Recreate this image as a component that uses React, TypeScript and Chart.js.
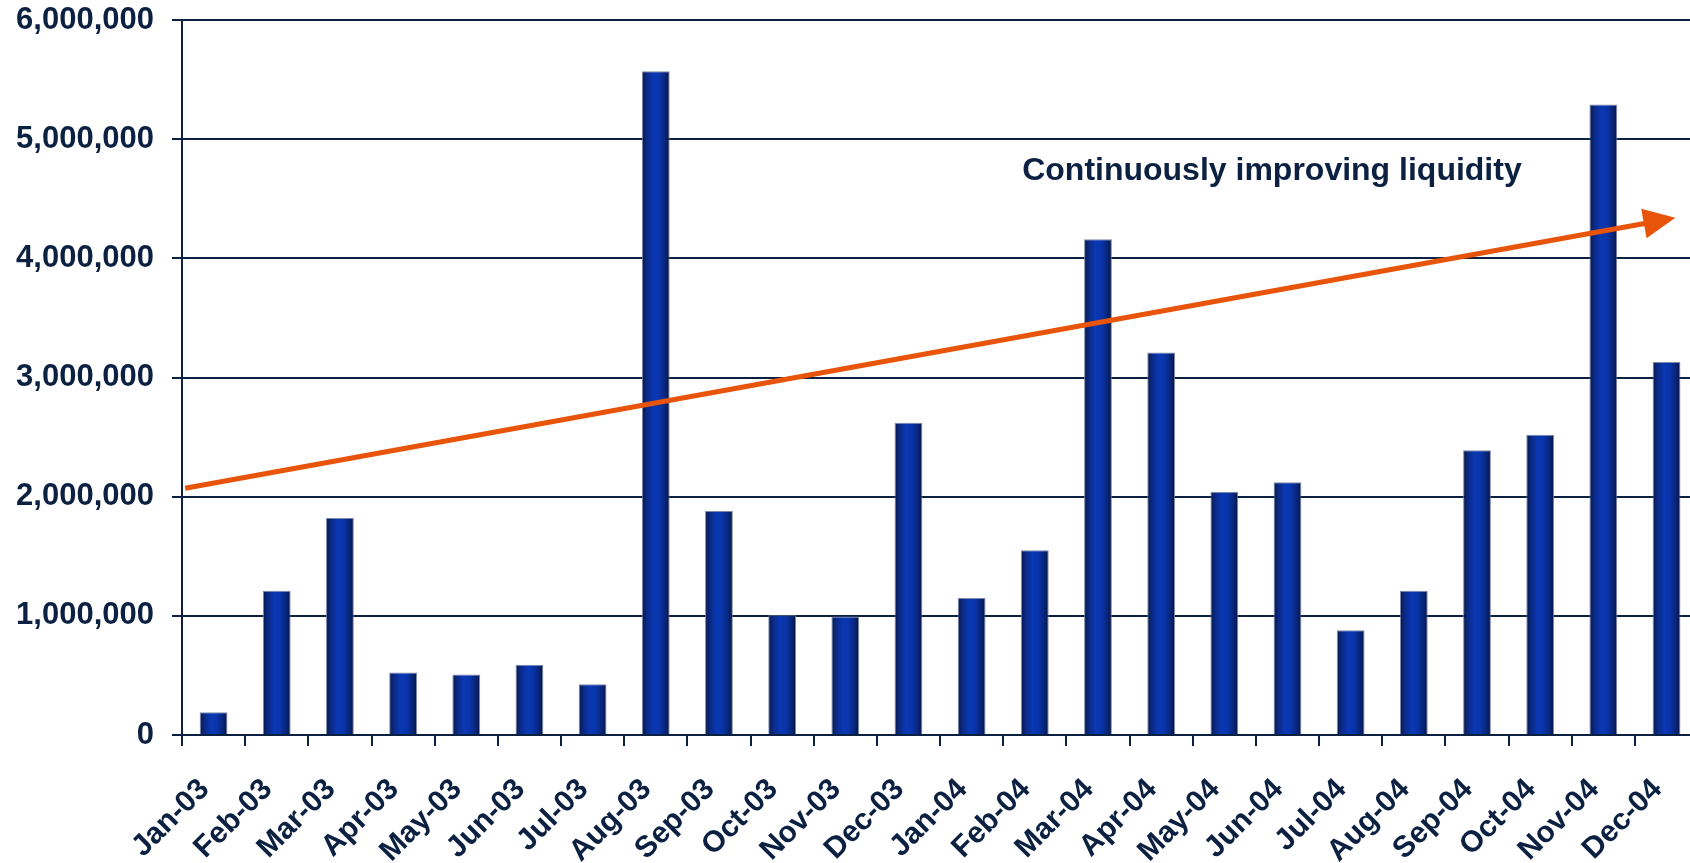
import React, { useEffect, useRef } from "react";
import { Chart, registerables } from "chart.js";

Chart.register(...registerables);

// Monthly volumes, Jan 2003 – Dec 2004
const months: string[] = [
  "Jan-03", "Feb-03", "Mar-03", "Apr-03", "May-03", "Jun-03",
  "Jul-03", "Aug-03", "Sep-03", "Oct-03", "Nov-03", "Dec-03",
  "Jan-04", "Feb-04", "Mar-04", "Apr-04", "May-04", "Jun-04",
  "Jul-04", "Aug-04", "Sep-04", "Oct-04", "Nov-04", "Dec-04",
];

const volumes: number[] = [
  190000, 1210000, 1820000, 525000, 507000, 590000,
  425000, 5570000, 1880000, 1005000, 995000, 2620000,
  1150000, 1550000, 4160000, 3210000, 2040000, 2120000,
  880000, 1210000, 2390000, 2520000, 5290000, 3130000,
];

// Y axis range and step
const yMin = 0;
const yMax = 6000000;
const yStep = 1000000;

// Trend arrow: category position (fractional index) and value at each end
const trendStart = { index: -0.45, value: 2070000 };
const trendEnd = { index: 23.14, value: 4340000 };

// Annotation text and its anchor (left/baseline) in data coordinates
const trendLabel = "Continuously improving liquidity";
const trendLabelAnchor = { index: 12.8, value: 4660000 };

const NAVY = "#0c2142";
const ORANGE = "#e8540a";
const FONT = "'Liberation Sans', Arial, Helvetica, sans-serif";

// Cylinder-like horizontal shading on every bar
const barShading = {
  id: "barShading",
  beforeDatasetsDraw(chart: any) {
    const ctx = chart.ctx;
    chart.getSortedVisibleDatasetMetas().forEach((meta: any) => {
      meta.data.forEach((el: any) => {
        const { x, width } = el.getProps(["x", "width"], true);
        const g = ctx.createLinearGradient(x - width / 2, 0, x + width / 2, 0);
        g.addColorStop(0, "#071848");
        g.addColorStop(0.18, "#0b2a86");
        g.addColorStop(0.42, "#0a38b4");
        g.addColorStop(0.62, "#0934aa");
        g.addColorStop(0.85, "#082475");
        g.addColorStop(1, "#051340");
        el.options = Object.assign({}, el.options, { backgroundColor: g });
      });
    });
  },
};

const trendArrow = {
  id: "trendArrow",
  afterDatasetsDraw(chart: any) {
    const ctx = chart.ctx;
    const xs = chart.scales.x;
    const ys = chart.scales.y;
    const x0 = xs.getPixelForValue(trendStart.index);
    const y0 = ys.getPixelForValue(trendStart.value);
    const x1 = xs.getPixelForValue(trendEnd.index);
    const y1 = ys.getPixelForValue(trendEnd.value);
    const ang = Math.atan2(y1 - y0, x1 - x0);
    const headLen = 32;
    const headHalf = 15;
    const bx = x1 - headLen * Math.cos(ang);
    const by = y1 - headLen * Math.sin(ang);

    ctx.save();
    ctx.strokeStyle = ORANGE;
    ctx.fillStyle = ORANGE;
    ctx.lineWidth = 5;
    ctx.lineCap = "butt";
    ctx.beginPath();
    ctx.moveTo(x0, y0);
    ctx.lineTo(bx + 2 * Math.cos(ang), by + 2 * Math.sin(ang));
    ctx.stroke();

    ctx.beginPath();
    ctx.moveTo(x1, y1);
    ctx.lineTo(bx - headHalf * Math.sin(ang), by + headHalf * Math.cos(ang));
    ctx.lineTo(bx + headHalf * Math.sin(ang), by - headHalf * Math.cos(ang));
    ctx.closePath();
    ctx.fill();

    ctx.font = `bold 32px ${FONT}`;
    ctx.fillStyle = NAVY;
    ctx.textAlign = "left";
    ctx.textBaseline = "alphabetic";
    ctx.fillText(
      trendLabel,
      xs.getPixelForValue(trendLabelAnchor.index),
      ys.getPixelForValue(trendLabelAnchor.value)
    );
    ctx.restore();
  },
};

export default function App() {
  const canvasRef = useRef<HTMLCanvasElement | null>(null);

  useEffect(() => {
    document.body.style.margin = "0";
    if (!canvasRef.current) return;
    const chart = new Chart(canvasRef.current, {
      type: "bar",
      data: {
        labels: months,
        datasets: [
          {
            data: volumes,
            backgroundColor: "#0a35b0",
            borderColor: "rgba(110,125,160,0.9)",
            borderWidth: 1,
            barPercentage: 0.44,
            categoryPercentage: 1,
          },
        ],
      },
      options: {
        responsive: false,
        animation: false,
        events: [],
        layout: { padding: { top: 20, right: 1, bottom: 0, left: 0 } },
        plugins: {
          legend: { display: false },
          tooltip: { enabled: false },
          title: { display: false },
        },
        scales: {
          x: {
            offset: true,
            afterFit: (s: any) => {
              s.height = 128;
            },
            grid: {
              offset: true,
              drawOnChartArea: false,
              drawTicks: true,
              tickLength: 11,
              color: NAVY,
              lineWidth: 2,
            },
            border: { display: true, color: NAVY, width: 2 },
            ticks: {
              autoSkip: false,
              maxRotation: 45,
              minRotation: 45,
              padding: 26,
              labelOffset: -9,
              color: NAVY,
              font: { family: FONT, size: 30, weight: "bold" },
            },
          },
          y: {
            min: yMin,
            max: yMax,
            afterFit: (s: any) => {
              s.width = 182;
              s.paddingTop = 0;
              s.paddingBottom = 0;
            },
            grid: {
              color: NAVY,
              lineWidth: 2,
              drawTicks: true,
              tickLength: 10,
            },
            border: { display: true, color: NAVY, width: 2 },
            ticks: {
              stepSize: yStep,
              padding: 18,
              color: NAVY,
              font: { family: FONT, size: 31, weight: "bold" },
              callback: (v: any) => Number(v).toLocaleString("en-US"),
            },
          },
        },
      },
      plugins: [barShading, trendArrow],
    });
    return () => chart.destroy();
  }, []);

  return (
    <div
      style={{
        position: "absolute",
        left: 0,
        top: 0,
        width: 1690,
        height: 863,
        overflow: "hidden",
        background: "#fff",
      }}
    >
      <canvas ref={canvasRef} width={1718} height={863} />
    </div>
  );
}
